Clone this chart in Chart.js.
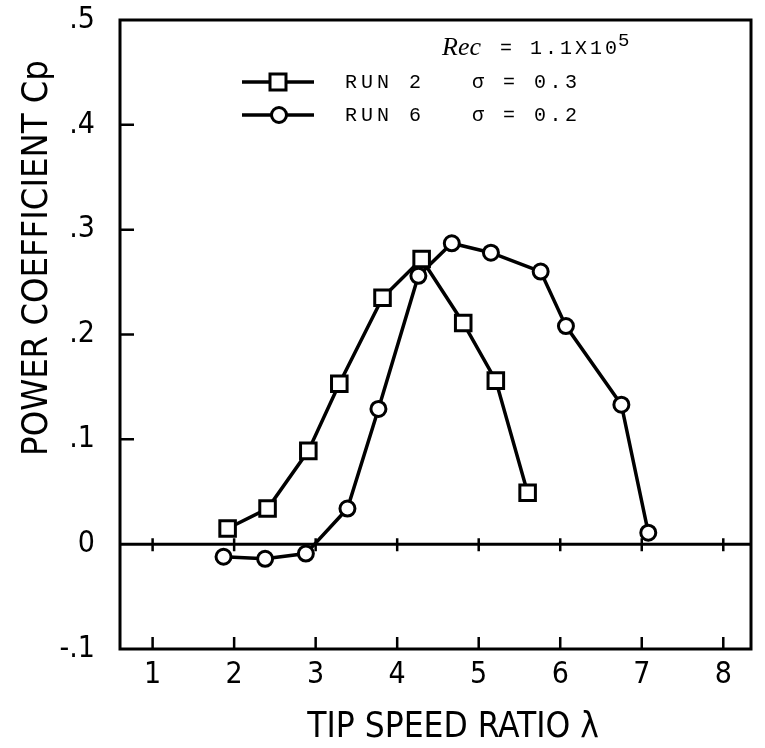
<!DOCTYPE html>
<html>
<head>
<meta charset="utf-8">
<script src="https://cdn.jsdelivr.net/npm/chart.js@4.4.1/dist/chart.umd.min.js"></script>
<style>
  body { margin: 0; background: #fff; }
  #wrap { width: 765px; height: 748px; }
</style>
</head>
<body>
<div id="wrap"><canvas id="cpChart" width="765" height="748"></canvas></div>
<script>
// values
var run2Lambda = [1.92, 2.41, 2.91, 3.29, 3.82, 4.30, 4.81, 5.21, 5.60];
var run2Cp = [0.015, 0.034, 0.089, 0.153, 0.235, 0.272, 0.211, 0.156, 0.049];
var run6Lambda = [1.87, 2.38, 2.88, 3.39, 3.77, 4.26, 4.67, 5.15, 5.76, 6.07, 6.75, 7.08];
var run6Cp = [-0.012, -0.014, -0.009, 0.034, 0.129, 0.256, 0.287, 0.278, 0.260, 0.208, 0.133, 0.011];
var xTicks = [1, 2, 3, 4, 5, 6, 7, 8];
var yTicks = [-0.1, 0, 0.1, 0.2, 0.3, 0.4, 0.5];
var legendRuns = ['RUN 2', 'RUN 6'];
var legendSigma = ['\u03c3 = 0.3', '\u03c3 = 0.2'];

var axisFont = "'DejaVu Sans Condensed', 'Liberation Sans Narrow', 'DejaVu Sans', sans-serif";
var monoFont = "'Liberation Mono', 'DejaVu Sans Mono', monospace";

function pairs(xs, ys) {
    return xs.map(function (x, i) { return { x: x, y: ys[i] }; });
}

function cpLabel(v) {
    var r = Math.round(v * 10) / 10;
    if (r === 0) return '0';
    return String(r).replace('0.', '.');
}

// frame, zero line, inward ticks
var framePlugin = {
    id: 'frame',
    beforeDatasetsDraw: function (chart) {
        var ctx = chart.ctx, a = chart.chartArea;
        var xs = chart.scales.x, ys = chart.scales.y;
        var y0 = ys.getPixelForValue(0);
        ctx.save();
        ctx.strokeStyle = '#000';
        ctx.lineWidth = 3;
        ctx.strokeRect(a.left, a.top, a.right - a.left, a.bottom - a.top);
        ctx.beginPath();
        ctx.moveTo(a.left, y0);
        ctx.lineTo(a.right, y0);
        ctx.stroke();
        ctx.lineWidth = 2.5;
        ctx.beginPath();
        xTicks.forEach(function (v) {
            var px = xs.getPixelForValue(v);
            ctx.moveTo(px, a.bottom);
            ctx.lineTo(px, a.bottom - 12);
            ctx.moveTo(px, y0 - 6);
            ctx.lineTo(px, y0 + 7);
        });
        yTicks.forEach(function (v) {
            if (v <= -0.1 || v >= 0.5 || v === 0) return;
            var py = ys.getPixelForValue(v);
            ctx.moveTo(a.left, py);
            ctx.lineTo(a.left + 14, py);
        });
        ctx.stroke();
        ctx.restore();
    },
    afterDraw: function (chart) {
        var ctx = chart.ctx, a = chart.chartArea;
        ctx.save();
        ctx.fillStyle = '#000';
        ctx.strokeStyle = '#000';

        // axis titles
        ctx.font = '35px ' + axisFont;
        ctx.textAlign = 'center';
        ctx.textBaseline = 'middle';
        ctx.fillText('TIP SPEED RATIO \u03bb', a.left + 333, a.bottom + 79);
        ctx.save();
        ctx.translate(a.left - 82, a.top + 238);
        ctx.rotate(-Math.PI / 2);
        ctx.font = '36px ' + axisFont;
        ctx.fillText('POWER COEFFICIENT Cp', 0, 0);
        ctx.restore();

        // legend block
        ctx.textAlign = 'left';
        ctx.font = 'italic 26px "Liberation Serif", serif';
        ctx.fillText('Rec', a.left + 322, a.top + 28);
        ctx.font = '20px ' + monoFont;
        ctx.letterSpacing = '3px';
        ctx.fillText('= 1.1X10', a.left + 380, a.top + 29);
        ctx.letterSpacing = '0px';
        ctx.font = '19px ' + monoFont;
        ctx.fillText('5', a.left + 498, a.top + 21);

        var styles = ['rect', 'circle'];
        for (var i = 0; i < legendRuns.length; i++) {
            var ly = a.top + 62 + i * 33;
            ctx.lineWidth = 3.5;
            ctx.beginPath();
            ctx.moveTo(a.left + 122, ly);
            ctx.lineTo(a.left + 194, ly);
            ctx.stroke();
            ctx.fillStyle = '#fff';
            ctx.lineWidth = 3;
            ctx.beginPath();
            if (styles[i] === 'rect') {
                ctx.rect(a.left + 150, ly - 8, 16, 16);
            } else {
                ctx.arc(a.left + 159, ly, 7.5, 0, Math.PI * 2);
            }
            ctx.fill();
            ctx.stroke();
            ctx.fillStyle = '#000';
            ctx.font = '20px ' + monoFont;
            ctx.letterSpacing = '4px';
            ctx.fillText(legendRuns[i], a.left + 225, ly + 1);
            ctx.letterSpacing = '3.5px';
            ctx.fillText(legendSigma[i], a.left + 352, ly + 1);
            ctx.letterSpacing = '0px';
        }
        ctx.restore();
    }
};

document.addEventListener('DOMContentLoaded', function () {
    var ctx = document.getElementById('cpChart').getContext('2d');

    var data = {
        datasets: [{
            label: 'RUN 2  \u03c3 = 0.3',
            data: pairs(run2Lambda, run2Cp),
            showLine: true,
            borderColor: '#000',
            borderWidth: 3.5,
            pointStyle: 'rect',
            pointRadius: 11,
            pointBorderWidth: 3,
            pointBackgroundColor: '#fff',
            pointBorderColor: '#000'
        }, {
            label: 'RUN 6  \u03c3 = 0.2',
            data: pairs(run6Lambda, run6Cp),
            showLine: true,
            borderColor: '#000',
            borderWidth: 3.5,
            pointStyle: 'circle',
            pointRadius: 7.5,
            pointBorderWidth: 3,
            pointBackgroundColor: '#fff',
            pointBorderColor: '#000'
        }]
    };

    var options = {
        responsive: false,
        animation: false,
        layout: { padding: { top: 20, right: 13, left: 0, bottom: 0 } },
        plugins: {
            legend: { display: false },
            tooltip: { enabled: false }
        },
        scales: {
            x: {
                type: 'linear',
                min: 0.6,
                max: 8.34,
                grid: { display: false, drawTicks: false },
                border: { display: false },
                afterFit: function (s) {
                    s.height = 99;
                    s.paddingLeft = 0;
                    s.paddingRight = 0;
                },
                afterBuildTicks: function (s) {
                    s.ticks = xTicks.map(function (v) { return { value: v }; });
                },
                ticks: {
                    color: '#000',
                    padding: 8,
                    font: { family: axisFont, size: 30 },
                    callback: function (v) { return String(v); }
                }
            },
            y: {
                type: 'linear',
                min: -0.1,
                max: 0.5,
                grid: { display: false, drawTicks: false },
                border: { display: false },
                afterFit: function (s) {
                    s.width = 120;
                    s.paddingTop = 0;
                    s.paddingBottom = 0;
                },
                afterBuildTicks: function (s) {
                    s.ticks = yTicks.map(function (v) { return { value: v }; });
                },
                ticks: {
                    color: '#000',
                    padding: 25,
                    font: { family: axisFont, size: 30 },
                    callback: function (v) { return cpLabel(v); }
                }
            }
        }
    };

    new Chart(ctx, {
        type: 'scatter',
        data: data,
        options: options,
        plugins: [framePlugin]
    });
});
</script>
</body>
</html>
